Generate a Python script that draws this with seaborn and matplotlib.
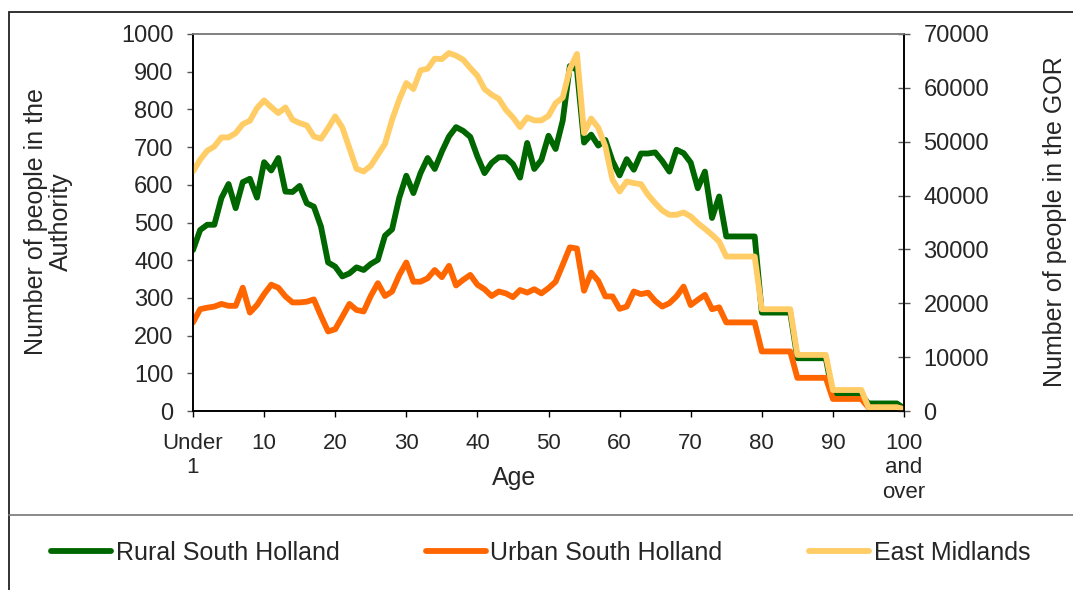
"""
South Holland population by single year of age
Rural / Urban authority vs East Midlands GOR
"""

import matplotlib.pyplot as plt
import matplotlib.patches as mpatches
from matplotlib.lines import Line2D
import numpy as np
import seaborn as sns

sns.set_theme(style="white")
plt.rcParams["font.family"] = ["Liberation Sans", "DejaVu Sans"]

# ── data ────────────────────────────────────────────────────────────────────
ages = list(range(0, 101))

rural = [427, 480, 494, 494, 565, 602, 538, 607, 616, 566,
         660, 638, 671, 582, 581, 597, 551, 542, 489, 394,
         383, 357, 365, 381, 374, 390, 401, 465, 482, 565,
         624, 578, 631, 671, 642, 688, 728, 753, 743, 727,
         675, 631, 658, 673, 673, 655, 619, 711, 642, 666,
         730, 695, 770, 915, 905, 712, 733, 704, 719, 663,
         625, 668, 640, 683, 683, 686, 663, 635, 693, 684,
         659, 591, 635, 512, 569, 463, 463, 463, 463, 463,
         261, 261, 261, 261, 261, 140, 140, 140, 140, 140,
         42, 42, 42, 42, 42, 20, 20, 20, 20, 20,
         7]

urban = [235, 270, 274, 277, 284, 279, 279, 327, 261, 281,
         310, 335, 327, 304, 288, 288, 290, 296, 252, 211,
         217, 250, 284, 268, 264, 305, 339, 305, 317, 360,
         394, 343, 343, 352, 374, 355, 385, 333, 348, 361,
         335, 323, 305, 317, 312, 302, 321, 314, 323, 312,
         326, 343, 388, 434, 431, 319, 367, 345, 304, 304,
         271, 277, 317, 310, 314, 292, 277, 286, 304, 330,
         281, 295, 308, 270, 275, 235, 235, 235, 235, 235,
         158, 158, 158, 158, 158, 88, 88, 88, 88, 88,
         32, 32, 32, 32, 32, 9, 9, 9, 9, 9,
         5]

east_mid = [44480, 46650, 48320, 49120, 50800, 50800, 51600, 53270, 53890, 56250,
            57670, 56430, 55320, 56370, 54080, 53460, 53030, 50980, 50550, 52530,
            54700, 52650, 48810, 44970, 44480, 45530, 47570, 49600, 54080, 57800,
            60890, 59780, 63250, 63560, 65420, 65350, 66470, 65970, 65230, 63680,
            62260, 59780, 58730, 57980, 55940, 54510, 52720, 54510, 53960, 53960,
            54800, 57150, 58200, 63500, 66300, 51600, 54300, 52600, 49120, 42930,
            40760, 42620, 42310, 42120, 40140, 38590, 37230, 36430, 36430, 36860,
            36120, 34880, 33830, 32710, 31470, 28680, 28680, 28680, 28680, 28680,
            18900, 18900, 18900, 18900, 18900, 10410, 10410, 10410, 10410, 10410,
            3900, 3900, 3900, 3900, 3900, 700, 700, 700, 700, 700,
            310]

x_ticks = [0, 10, 20, 30, 40, 50, 60, 70, 80, 90, 100]
x_labels = ["Under\n1", "10", "20", "30", "40", "50", "60", "70", "80", "90",
            "100\nand\nover"]

GREEN, ORANGE, YELLOW = "#006600", "#FF6600", "#FFCC66"

# ── figure ──────────────────────────────────────────────────────────────────
fig = plt.figure(figsize=(10.73, 5.90), dpi=100)
ax = fig.add_axes([193/1073, 1 - 411/590, (904 - 193)/1073, (411 - 34)/590])
ax2 = ax.twinx()

sns.lineplot(x=ages, y=rural, ax=ax, color=GREEN, linewidth=3.2,
             label="Rural South Holland")
sns.lineplot(x=ages, y=urban, ax=ax, color=ORANGE, linewidth=3.2,
             label="Urban South Holland")
sns.lineplot(x=ages, y=east_mid, ax=ax2, color=YELLOW, linewidth=3.2,
             label="East Midlands")

ax.set_xlim(0, 100)
ax.set_ylim(0, 1000)
ax2.set_ylim(0, 70000)
ax.set_yticks(range(0, 1001, 100))
ax2.set_yticks(range(0, 70001, 10000))
ax.set_xticks(x_ticks)
ax.set_xticklabels(x_labels)
ax.set_xlabel(""); ax.set_ylabel(""); ax2.set_ylabel("")

for a in (ax, ax2):
    for s in a.spines.values():
        s.set_color("black"); s.set_linewidth(1.2)
    a.spines["top"].set_color("#808080")
    a.grid(False)

ax.tick_params(axis="y", direction="out", length=4, width=1, color="#555555",
               labelsize=17, pad=10, left=True)
ax.tick_params(axis="x", direction="out", length=4, width=1, color="black",
               labelsize=16, pad=12, bottom=True)
ax2.tick_params(axis="y", direction="inout", length=8, width=1, color="#555555",
                labelsize=17, pad=10, right=True)

# axis titles
fig.text(48/1073, 1 - 222/590, "Number of people in the\nAuthority", rotation=90,
         ha="center", va="center", fontsize=18, linespacing=1.05)
fig.text(1055/1073, 1 - 222/590, "Number of people in the GOR", rotation=90,
         ha="center", va="center", fontsize=18)
fig.text(514/1073, 1 - 478/590, "Age", ha="center", va="center", fontsize=18)

# legend below the plot
h1, l1 = ax.get_legend_handles_labels()
h2, l2 = ax2.get_legend_handles_labels()
for h in h1 + h2:
    h.set_linewidth(4.2)
ax.get_legend().remove(); ax2.get_legend().remove()
fig.legend(h1 + h2, l1 + l2, loc="center left", bbox_to_anchor=(28/1073, 1 - 553/590),
           ncol=3, frameon=False, fontsize=18, handlelength=2.4,
           handletextpad=0.2, columnspacing=3.45)

# chart frame and separator
fig.add_artist(mpatches.Rectangle((9/1073, -0.1), 1.2, 0.1 + 1 - 12/590,
                                  transform=fig.transFigure, fill=False,
                                  edgecolor="#222222", linewidth=1.3))
fig.add_artist(Line2D([9/1073, 1], [1 - 515/590, 1 - 515/590],
                      transform=fig.transFigure, color="#808080", linewidth=1.3))

fig.savefig("out.png", dpi=100)
